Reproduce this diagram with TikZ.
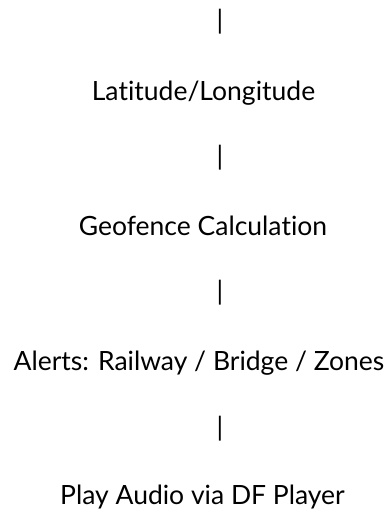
\documentclass[tikz,border=0pt]{standalone}
\usepackage{fontspec}
\setmainfont{Lato}[Ligatures={NoCommon}]
\begin{document}
\begin{tikzpicture}[x=1pt,y=-1pt,
  lbl/.style={inner sep=0pt,anchor=base,font=\fontsize{26.5}{32}\selectfont},
  bar/.style={inner sep=0pt,anchor=center,font=\fontsize{26.5}{32}\selectfont}]
\useasboundingbox (0,0) rectangle (388,510);
\node[bar] (b1) at (220,22) {|};
\node[lbl] (t1) at (203.5,101) {Latitude/Longitude};
\node[bar] (b2) at (220,158) {|};
\node[lbl] (t2) at (203,236) {Geofence Calculation};
\node[bar] (b3) at (220,293) {|};
\node[lbl] (t3) at (199,370) {Alerts: Railway / Bridge / Zones};
\node[bar] (b4) at (220,429) {|};
\node[lbl] (t4) at (202.5,504) {Play Audio via DF Player};
\end{tikzpicture}
\end{document}
